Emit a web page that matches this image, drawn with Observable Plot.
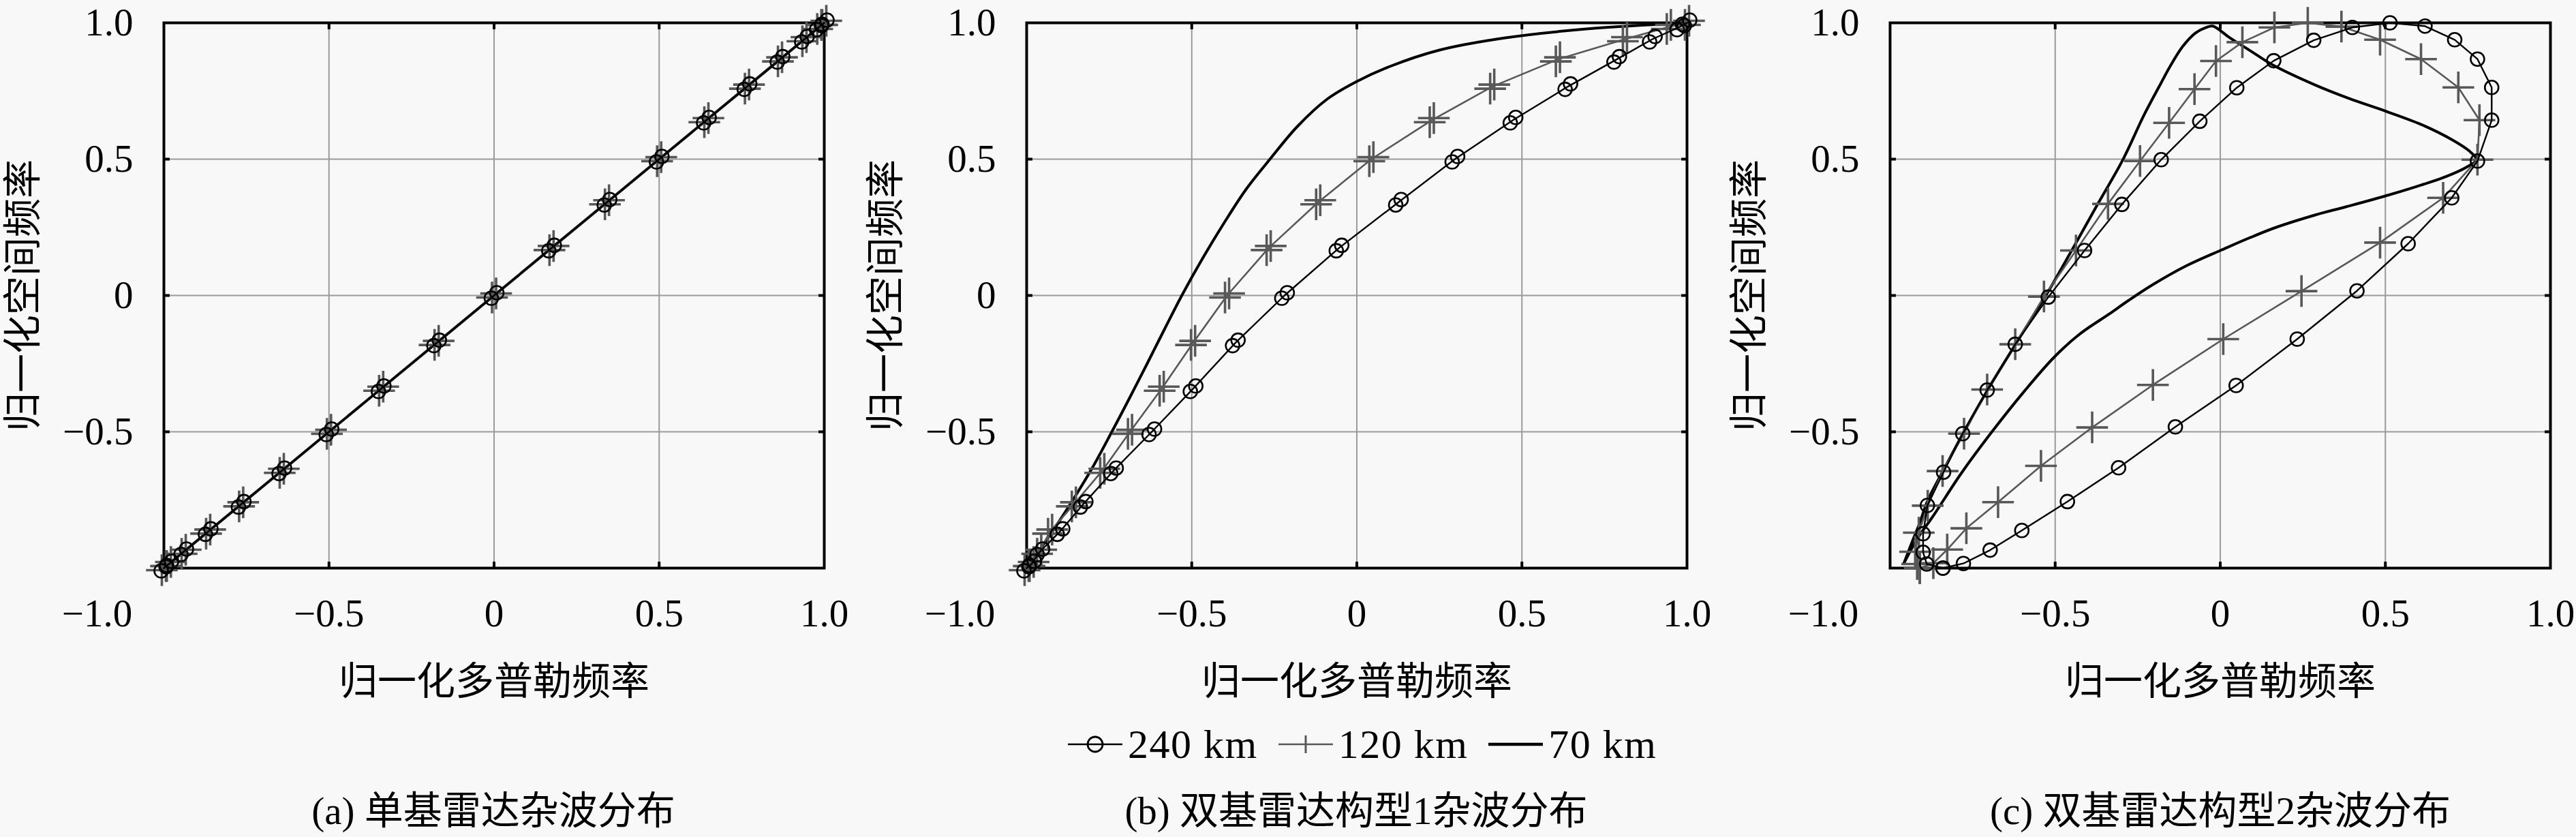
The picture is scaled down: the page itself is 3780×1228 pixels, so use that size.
<!DOCTYPE html>
<html>
<head>
<meta charset="utf-8">
<script src="https://cdn.jsdelivr.net/npm/d3@7"></script>
<script src="https://cdn.jsdelivr.net/npm/@observablehq/plot@0.6"></script>
<style>
  html, body { margin: 0; padding: 0; background: #f8f8f8; }
  #root { position: relative; width: 3780px; height: 1228px; overflow: hidden; background: #f8f8f8;
          font-family: "Liberation Serif", "Noto Sans CJK SC", serif; color: #000; }
  .panel { position: absolute; top: 0; width: 1247px; height: 1040px; }
  .panel svg { background: transparent; }
  .caption { position: absolute; top: 1155px; width: 1000px; text-align: center; font-size: 57px; line-height: 70px; }
  #legend { position: absolute; top: 1057px; left: 1567px; display: flex; align-items: center; font-size: 60px; letter-spacing: 1.5px; line-height: 70px; white-space: nowrap; }
  #legend .item { display: flex; align-items: center; margin-right: 30px; }
  #legend svg { margin-right: 8px; }
</style>
</head>
<body>
<div id="root">
  <div class="panel" id="pa" style="left:0px"></div>
  <div class="panel" id="pb" style="left:1266px"></div>
  <div class="panel" id="pc" style="left:2533px"></div>
  <div id="legend"></div>
  <div class="caption" style="left:224px">(a) 单基雷达杂波分布</div>
  <div class="caption" style="left:1490px">(b) 双基雷达构型1杂波分布</div>
  <div class="caption" style="left:2758px">(c) 双基雷达构型2杂波分布</div>
</div>
<script>
// ---------- data ----------
const seriesNames = ["240 km", "120 km", "70 km"];
const xTickLabels = [-1, -0.5, 0, 0.5, 1];
const gridValues = [-0.5, 0, 0.5];
const yTicksAB = [-0.5, 0, 0.5, 1];
const yTicksC = [-0.5, 0.5, 1];
const xTitle = "归一化多普勒频率";
const yTitle = "归一化空间频率";

// (a) monostatic: all three ranges coincide on the diagonal
const aX = [-1, -0.985, -0.94, -0.866, -0.766, -0.643, -0.5, -0.342, -0.174, 0, 0.174, 0.342, 0.5, 0.643, 0.766, 0.866, 0.94, 0.985, 1];
const aY = [-1, -0.985, -0.94, -0.866, -0.766, -0.643, -0.5, -0.342, -0.174, 0, 0.174, 0.342, 0.5, 0.643, 0.766, 0.866, 0.94, 0.985, 1];

// (b) bistatic config 1
const bY = [-1, -0.985, -0.94, -0.866, -0.766, -0.643, -0.5, -0.342, -0.174, 0, 0.174, 0.342, 0.5, 0.643, 0.766, 0.866, 0.94, 0.985, 1];
const bX240 = [-1, -0.985, -0.96, -0.899, -0.829, -0.737, -0.621, -0.496, -0.368, -0.219, -0.054, 0.126, 0.297, 0.473, 0.639, 0.787, 0.895, 0.978, 1];
const bX120 = [-1, -0.985, -0.962, -0.929, -0.857, -0.771, -0.687, -0.591, -0.496, -0.393, -0.267, -0.117, 0.044, 0.227, 0.41, 0.609, 0.812, 0.945, 1];
const bX70 = [-1, -0.93, -0.86, -0.8, -0.742, -0.69, -0.635, -0.583, -0.53, -0.47, -0.4, -0.335, -0.263, -0.18, -0.09, 0.0, 0.1, 0.25, 0.45, 0.7, 1];
const bY70 = [-1, -0.88, -0.75, -0.63, -0.5, -0.38, -0.25, -0.125, 0.0, 0.13, 0.27, 0.39, 0.5, 0.62, 0.72, 0.785, 0.84, 0.9, 0.945, 0.978, 1];

// (c) bistatic config 2 (closed loops)
const cX240 = [-0.84, -0.889, -0.9, -0.9, -0.887, -0.838, -0.78, -0.706, -0.621, -0.521, -0.411, -0.298, -0.179, -0.062, 0.05, 0.162, 0.283, 0.4, 0.514,
               0.62, 0.71, 0.779, 0.822, 0.822, 0.779, 0.701, 0.569, 0.414, 0.233, 0.048, -0.136, -0.308, -0.463, -0.601, -0.697, -0.778, -0.84];
const cY240 = [-1, -0.985, -0.942, -0.874, -0.77, -0.648, -0.507, -0.347, -0.179, -0.006, 0.165, 0.334, 0.498, 0.639, 0.762, 0.861, 0.936, 0.983, 1,
               0.988, 0.938, 0.867, 0.763, 0.643, 0.493, 0.358, 0.19, 0.017, -0.16, -0.33, -0.482, -0.632, -0.756, -0.862, -0.934, -0.983, -1];
const cX120 = [-0.91, -0.918, -0.924, -0.913, -0.886, -0.841, -0.776, -0.706, -0.621, -0.534, -0.437, -0.34, -0.243, -0.155, -0.078, -0.013, 0.067, 0.164, 0.265,
               0.367, 0.484, 0.608, 0.721, 0.785, 0.779, 0.675, 0.484, 0.246, 0.009, -0.204, -0.388, -0.543, -0.673, -0.769, -0.827, -0.869, -0.91];
const cY120 = [-1, -0.985, -0.94, -0.87, -0.771, -0.644, -0.507, -0.345, -0.179, -0.004, 0.165, 0.336, 0.493, 0.633, 0.757, 0.86, 0.929, 0.983, 1,
               0.986, 0.938, 0.867, 0.763, 0.643, 0.498, 0.358, 0.194, 0.016, -0.16, -0.328, -0.484, -0.625, -0.758, -0.854, -0.932, -0.982, -1];
const cX70 = [-0.958, -0.932, -0.912, -0.886, -0.838, -0.776, -0.702, -0.618, -0.528, -0.45, -0.373, -0.295, -0.23, -0.179, -0.153, -0.114, -0.075, -0.043, -0.023,
              0.028, 0.093, 0.158, 0.287, 0.391, 0.501, 0.611, 0.701, 0.753, 0.776,
              0.745, 0.675, 0.59, 0.5, 0.38, 0.287, 0.158, 0.0, -0.101, -0.204, -0.28, -0.334, -0.425, -0.502, -0.592, -0.696, -0.786, -0.869, -0.917, -0.958];
const cY70 = [-0.982, -0.9, -0.84, -0.752, -0.64, -0.499, -0.341, -0.175, 0.0, 0.165, 0.331, 0.498, 0.664, 0.78, 0.838, 0.913, 0.963, 0.983, 0.988,
              0.946, 0.896, 0.846, 0.772, 0.722, 0.676, 0.626, 0.572, 0.531, 0.498,
              0.47, 0.432, 0.398, 0.365, 0.325, 0.295, 0.245, 0.165, 0.11, 0.04, -0.02, -0.066, -0.141, -0.225, -0.349, -0.507, -0.655, -0.808, -0.891, -0.982];

// ---------- helpers ----------
const rows = (xs, ys, s) => xs.map((x, i) => ({x, y: ys[i], s}));
const fmt = d => d === 0 ? "0" : (d < 0 ? "\u2212" : "") + Math.abs(d).toFixed(1);
const GRAY = "#585858";

function panel({d240, d120, d70, yTicks, doubled, curve70}) {
  const dotSets = doubled ? [[-4, 4], [4, -4]] : [[0, 0]];
  const plusSets = doubled ? [[-3, 3], [3, -3]] : [[0, 0]];
  return Plot.plot({
    width: 1247, height: 1040,
    marginLeft: 240, marginRight: 38, marginTop: 33, marginBottom: 207,
    x: {domain: [-1, 1], label: null},
    y: {domain: [-1, 1], label: null},
    style: {fontFamily: '"Liberation Serif", "Noto Sans CJK SC", serif', fontSize: "57px", background: "transparent", color: "#000", overflow: "visible"},
    marks: [
      Plot.gridX(gridValues, {stroke: "#9a9a9a", strokeOpacity: 1, strokeWidth: 2}),
      Plot.gridY(gridValues, {stroke: "#9a9a9a", strokeOpacity: 1, strokeWidth: 2}),
      // inward tick marks on all four sides
      Plot.axisX({anchor: "bottom", ticks: gridValues, tickSize: -9, strokeWidth: 4, tickFormat: () => "", label: null}),
      Plot.axisX({anchor: "top", ticks: gridValues, tickSize: -9, strokeWidth: 4, tickFormat: () => "", label: null}),
      Plot.axisY({anchor: "left", ticks: gridValues, tickSize: -9, strokeWidth: 4, tickFormat: () => "", label: null}),
      Plot.axisY({anchor: "right", ticks: gridValues, tickSize: -9, strokeWidth: 4, tickFormat: () => "", label: null}),
      // tick labels and axis titles
      Plot.axisX({anchor: "bottom", ticks: xTickLabels.filter(d => d > -1), tickSize: 0, tickPadding: 45, tickFormat: fmt,
                  label: xTitle, labelAnchor: "center", labelArrow: "none", labelOffset: 185}),
      Plot.axisX({anchor: "bottom", ticks: xTickLabels.filter(d => d === -1), tickSize: 0, tickPadding: 45, tickFormat: fmt, dx: -98, label: null}),
      Plot.axisY({anchor: "left", ticks: yTicks, tickSize: 0, tickPadding: 45, tickFormat: fmt,
                  label: yTitle, labelAnchor: "center", labelArrow: "none", labelOffset: 228}),
      Plot.frame({stroke: "#000", strokeWidth: 4}),
      // 70 km
      Plot.line(d70, {x: "x", y: "y", stroke: "#000", strokeWidth: 4, curve: curve70}),
      // 120 km
      Plot.line(d120, {x: "x", y: "y", stroke: GRAY, strokeWidth: 2.6}),
      ...plusSets.map(([dx, dy]) => Plot.dot(d120, {x: "x", y: "y", symbol: "plus", r: 15, stroke: GRAY, strokeWidth: 3.6, dx, dy})),
      // 240 km
      Plot.line(d240, {x: "x", y: "y", stroke: "#000", strokeWidth: 2.4}),
      ...dotSets.map(([dx, dy]) => Plot.dot(d240, {x: "x", y: "y", symbol: "circle", r: 10, stroke: "#000", strokeWidth: 2.6, fill: "none", dx, dy}))
    ]
  });
}

document.getElementById("pa").append(panel({
  d240: rows(aX, aY, seriesNames[0]), d120: rows(aX, aY, seriesNames[1]), d70: rows(aX, aY, seriesNames[2]),
  yTicks: yTicksAB, doubled: true, curve70: "linear"
}));
document.getElementById("pb").append(panel({
  d240: rows(bX240, bY, seriesNames[0]), d120: rows(bX120, bY, seriesNames[1]), d70: rows(bX70, bY70, seriesNames[2]),
  yTicks: yTicksAB, doubled: true, curve70: "catmull-rom"
}));
document.getElementById("pc").append(panel({
  d240: rows(cX240, cY240, seriesNames[0]), d120: rows(cX120, cY120, seriesNames[1]), d70: rows(cX70, cY70, seriesNames[2]),
  yTicks: yTicksC, doubled: false, curve70: "catmull-rom"
}));

// ---------- legend ----------
const swatches = [
  `<svg width="80" height="40"><line x1="0" y1="20" x2="80" y2="20" stroke="#000" stroke-width="2.6"/><circle cx="40" cy="20" r="11" fill="none" stroke="#000" stroke-width="2.8"/></svg>`,
  `<svg width="80" height="40"><line x1="0" y1="20" x2="80" y2="20" stroke="${GRAY}" stroke-width="2.6"/><line x1="40" y1="7" x2="40" y2="33" stroke="${GRAY}" stroke-width="3"/></svg>`,
  `<svg width="80" height="40"><line x1="0" y1="20" x2="80" y2="20" stroke="#000" stroke-width="4.5"/></svg>`
];
const legend = document.getElementById("legend");
seriesNames.forEach((name, i) => {
  const it = document.createElement("div");
  it.className = "item";
  it.innerHTML = swatches[i] + `<span>${name}</span>`;
  legend.append(it);
});
</script>
</body>
</html>
